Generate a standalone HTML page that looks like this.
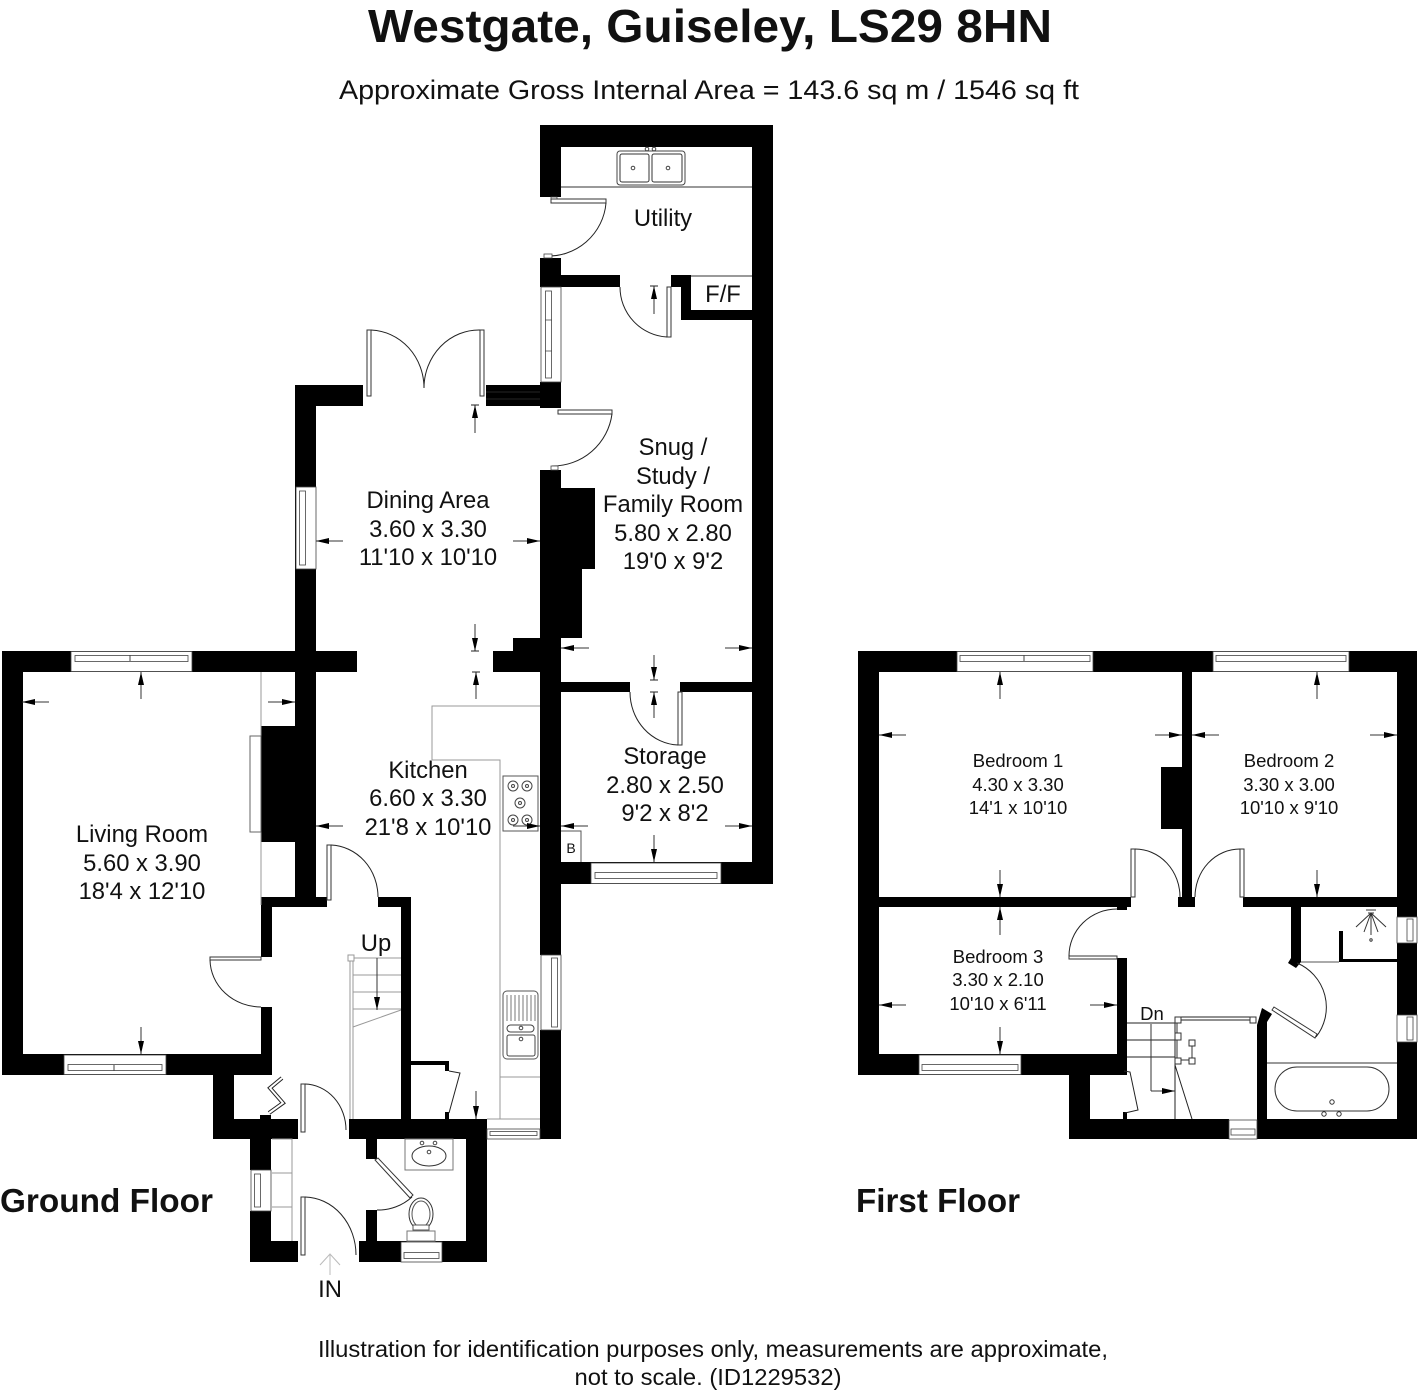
<!DOCTYPE html>
<html><head><meta charset="utf-8"><style>
html,body{margin:0;padding:0;background:#fff}
svg{display:block}
text{font-family:"Liberation Sans",sans-serif;fill:#111;text-anchor:middle}
.w{fill:#000;stroke:none}
.l{fill:none;stroke:#222;stroke-width:1}
.g{fill:none;stroke:#999;stroke-width:1}
.d{fill:#fff;stroke:#333;stroke-width:1}
.f{fill:#fff;stroke:#444;stroke-width:.8}
.r{font-size:23.8px}
.s{font-size:18.5px}
.a{stroke:#333;stroke-width:1;fill:none;marker-end:url(#ah)}
</style></head><body>
<svg width="1424" height="1392" viewBox="0 0 1424 1392" xmlns="http://www.w3.org/2000/svg">
<defs><marker id="ah" markerUnits="userSpaceOnUse" markerWidth="14" markerHeight="8" refX="13" refY="4" orient="auto"><path d="M0 1 L13 4 L0 7 Z" fill="#000"/></marker></defs>
<rect width="1424" height="1392" fill="#fff"/>

<!-- walls ground floor -->
<rect x="540" y="125" width="233" height="22" class="w"/>
<rect x="540" y="125" width="21" height="72" class="w"/>
<rect x="752" y="125" width="21" height="759" class="w"/>
<rect x="540" y="470" width="21" height="414" class="w"/>
<rect x="540" y="488" width="55" height="81" class="w"/>
<rect x="540" y="569" width="42" height="69" class="w"/>
<rect x="513" y="638" width="48" height="14" class="w"/>
<rect x="493" y="651" width="68" height="21" class="w"/>
<rect x="540" y="862" width="233" height="22" class="w"/>
<rect x="540" y="258" width="21" height="29" class="w"/>
<rect x="540" y="275" width="80" height="12" class="w"/>
<rect x="671" y="275" width="20" height="12" class="w"/>
<rect x="681" y="287" width="10" height="33" class="w"/>
<rect x="681" y="310" width="72" height="10" class="w"/>
<rect x="486" y="385" width="75" height="21" class="w"/>
<rect x="540" y="382" width="21" height="26" class="w"/>
<path d="M486 392H540M486 399H540" stroke="#333" stroke-width=".7"/>
<rect x="295" y="385" width="68" height="21" class="w"/>
<rect x="295" y="385" width="21" height="522" class="w"/>
<rect x="2" y="651" width="355" height="21" class="w"/>
<rect x="2" y="651" width="21" height="424" class="w"/>
<rect x="261" y="726" width="55" height="116" class="w"/>
<rect x="2" y="1054" width="270" height="21" class="w"/>
<rect x="261" y="897" width="66" height="10" class="w"/>
<rect x="261" y="897" width="11" height="60" class="w"/>
<rect x="261" y="1007" width="11" height="60" class="w"/>
<rect x="378" y="897" width="33" height="10" class="w"/>
<rect x="401" y="897" width="10" height="222" class="w"/>
<rect x="213" y="1067" width="21" height="72" class="w"/>
<rect x="213" y="1119" width="85" height="20" class="w"/>
<rect x="260" y="1115" width="11" height="4" class="w"/>
<rect x="349" y="1119" width="138" height="20" class="w"/>
<rect x="250" y="1139" width="21" height="31" class="w"/>
<rect x="250" y="1211" width="21" height="30" class="w"/>
<rect x="250" y="1241" width="48" height="21" class="w"/>
<rect x="359" y="1241" width="128" height="21" class="w"/>
<rect x="466" y="1139" width="21" height="102" class="w"/>
<rect x="366" y="1139" width="11" height="20" class="w"/>
<rect x="366" y="1210" width="11" height="31" class="w"/>
<rect x="411" y="1061" width="38" height="4" class="w"/>
<rect x="445" y="1061" width="4" height="10" class="w"/>
<rect x="445" y="1112" width="4" height="7" class="w"/>
<rect x="540" y="884" width="21" height="71" class="w"/>
<rect x="540" y="1030" width="21" height="109" class="w"/>
<rect x="561" y="682" width="69" height="10" class="w"/>
<rect x="680" y="682" width="72" height="10" class="w"/>

<!-- windows ground floor -->
<rect x="71" y="651.500" width="121" height="20" class="f"/>
<rect x="75" y="655.500" width="113" height="6" class="f"/><line x1="130" y1="655" x2="130" y2="661" stroke="#444"/>
<rect x="64" y="1055" width="102" height="19.500" class="f"/>
<rect x="68" y="1064.500" width="94" height="6" class="f"/><line x1="114" y1="1065" x2="114" y2="1071" stroke="#444"/>
<rect x="591" y="863" width="130" height="20.500" class="f"/>
<rect x="595" y="872.500" width="122" height="6" class="f"/>
<rect x="296" y="487" width="20" height="82" class="f"/>
<rect x="299.500" y="491" width="6" height="74" class="f"/>
<rect x="541" y="287" width="20" height="95" class="f"/>
<rect x="545.500" y="291" width="6" height="87" class="f"/>
<path d="M545 320H552M545 351H552" stroke="#444" stroke-width=".8"/>
<rect x="541" y="955" width="20" height="75" class="f"/>
<rect x="551.500" y="958" width="6" height="69" class="f"/>
<rect x="487" y="1129" width="53" height="10" class="f"/>
<rect x="490" y="1131.500" width="47" height="4" class="f"/>
<rect x="251" y="1170" width="20" height="41" class="f"/>
<rect x="254.500" y="1174" width="6" height="33" class="f"/>
<rect x="401" y="1242" width="41" height="20" class="f"/>
<rect x="404" y="1252.500" width="35" height="6" class="f"/>

<!-- doors ground -->
<rect x="551" y="197" width="6" height="6" class="f"/><rect x="551" y="199" width="55" height="4" class="d"/>
<path class="l" d="M606 203A58 58 0 0 1 545 256"/>
<rect x="544" y="254" width="8" height="4" class="f"/>
<rect x="667" y="287" width="4" height="50" class="d"/><path class="l" d="M620 287A50 50 0 0 0 667 337"/>
<rect x="367" y="330" width="4" height="66" class="d"/><rect x="480" y="330" width="4" height="66" class="d"/>
<path class="l" d="M371 330A55 58 0 0 1 424 388M480 330A55 58 0 0 0 424 388"/>
<rect x="558" y="410" width="54" height="4" class="d"/><path class="l" d="M612 414A60 60 0 0 1 552 466"/>
<rect x="551" y="466" width="7" height="4" class="f"/>
<rect x="678" y="692" width="4" height="53" class="d"/><path class="l" d="M630 692A50 53 0 0 0 678 745"/>
<rect x="327" y="845" width="4" height="55" class="d"/><path class="l" d="M331 845A49 52 0 0 1 378 897"/>
<rect x="210" y="957" width="51" height="3" class="d"/><path class="l" d="M210 960A51 48 0 0 0 261 1007"/>
<rect x="301" y="1084" width="4" height="48" class="d"/><path class="l" d="M305 1084A42 46 0 0 1 346 1130"/>
<rect x="301" y="1197" width="4" height="58" class="d"/><path class="l" d="M305 1197A52 58 0 0 1 356 1255"/>
<path class="d" d="M375 1160L378 1158L413 1195L410 1198Z"/><path class="l" d="M412 1197A50 50 0 0 1 377 1210"/>
<path class="l" d="M449 1071L460 1073L449 1113"/>
<path d="M269 1113L283 1103L270 1088L282 1078" style="fill:none;stroke:#222;stroke-width:4"/>
<path d="M269 1113L283 1103L270 1088L282 1078" style="fill:none;stroke:#fff;stroke-width:2"/>

<!-- fittings ground -->
<path class="g" d="M261 672V905M432 760V706H540M432 760H500V1119M500 1077H540M487 1119H540"/>
<rect x="250" y="736" width="11" height="96" fill="#fff" stroke="#666"/>
<rect x="503" y="776" width="35" height="55" fill="#fff" stroke="#555"/>
<g fill="none" stroke="#444"><circle cx="513" cy="786" r="5"/><circle cx="527" cy="786" r="5"/><circle cx="520" cy="803" r="5"/><circle cx="513" cy="820" r="5"/><circle cx="527" cy="820" r="5"/><circle cx="513" cy="786" r="1.5"/><circle cx="527" cy="786" r="1.5"/><circle cx="520" cy="803" r="1.5"/><circle cx="513" cy="820" r="1.5"/><circle cx="527" cy="820" r="1.5"/></g>
<line x1="561" y1="187" x2="752" y2="187" stroke="#333"/>
<rect x="617" y="151" width="68" height="34" rx="3" fill="#fff" stroke="#444"/>
<rect x="620" y="154" width="29" height="28" rx="2" fill="#fff" stroke="#333"/>
<rect x="652" y="154" width="30" height="28" rx="2" fill="#fff" stroke="#333"/>
<g fill="none" stroke="#444"><circle cx="633" cy="168" r="1.8"/><circle cx="668" cy="168" r="1.8"/><circle cx="647" cy="149" r="1.8"/><circle cx="654" cy="149" r="1.8"/></g>
<line x1="691" y1="276" x2="752" y2="276" stroke="#333"/>
<path d="M561 831H581V862" fill="none" stroke="#555"/>
<rect x="503" y="991" width="35" height="68" rx="4" fill="#fff" stroke="#555"/>
<path stroke="#777" fill="none" d="M507 995V1021M511 995V1021M515 995V1021M519 995V1021M523 995V1021M527 995V1021M531 995V1021M535 995V1021"/>
<rect x="507" y="1025" width="27" height="7" rx="3.500" fill="#fff" stroke="#444"/>
<rect x="507" y="1035" width="28" height="21" rx="2" fill="#fff" stroke="#444"/>
<circle cx="521" cy="1028" r="1.8" fill="#fff" stroke="#444"/><circle cx="521" cy="1039" r="1.8" fill="#fff" stroke="#444"/>
<rect x="405" y="1139" width="48" height="31" fill="#fff" stroke="#777"/>
<ellipse cx="429" cy="1156" rx="17" ry="10" fill="#fff" stroke="#333"/>
<g fill="none" stroke="#444"><circle cx="429" cy="1152" r="1.8"/><circle cx="422" cy="1143" r="1.8"/><circle cx="435" cy="1143" r="1.8"/></g>
<ellipse cx="421" cy="1214" rx="12" ry="16" fill="#fff" stroke="#333"/>
<ellipse cx="421" cy="1214" rx="9" ry="13" fill="#fff" stroke="#555"/>
<rect x="413" y="1225" width="16" height="5" fill="#fff" stroke="#555"/>
<rect x="407" y="1231" width="28" height="10" fill="#fff" stroke="#777"/>
<path class="g" d="M272 1139H292V1241M272 1173H292M272 1207H292"/>
<path class="g" d="M353 958H401M353 975H401M353 992H401M353 1009H401M353 1027L401 1010M350 958V1119M353 958V1119"/>
<rect x="348" y="955" width="6" height="6" fill="#fff" stroke="#999"/>
<line x1="377" y1="958" x2="377" y2="1010" class="a"/>

<!-- arrows ground -->
<g>
<line class="a" x1="654" y1="314" x2="654" y2="286"/><path class="l" d="M650 286H658"/>
<line class="a" x1="475" y1="433" x2="475" y2="405"/><path class="l" d="M471 405H479"/>
<line class="a" x1="475" y1="624" x2="475" y2="651"/><path class="l" d="M471 651H479"/>
<line class="a" x1="343" y1="541" x2="316" y2="541"/>
<line class="a" x1="513" y1="541" x2="540" y2="541"/>
<line class="a" x1="589" y1="648" x2="561" y2="648"/>
<line class="a" x1="725" y1="648" x2="752" y2="648"/>
<line class="a" x1="654" y1="655" x2="654" y2="680"/><path class="l" d="M650 680H658"/>
<line class="a" x1="654" y1="718" x2="654" y2="692"/><path class="l" d="M650 692H658"/>
<line class="a" x1="476" y1="699" x2="476" y2="672"/><path class="l" d="M472 672H480"/>
<line class="a" x1="343" y1="826" x2="316" y2="826"/>
<line class="a" x1="513" y1="826" x2="540" y2="826"/>
<line class="a" x1="476" y1="1091" x2="476" y2="1119"/>
<line class="a" x1="588" y1="826" x2="561" y2="826"/>
<line class="a" x1="725" y1="826" x2="752" y2="826"/>
<line class="a" x1="654" y1="835" x2="654" y2="862"/>
<line class="a" x1="141" y1="699" x2="141" y2="672"/>
<line class="a" x1="49" y1="702" x2="22" y2="702"/>
<line class="a" x1="268" y1="702" x2="295" y2="702"/>
<line class="a" x1="141" y1="1027" x2="141" y2="1054"/>
</g>
<path d="M330 1275V1255M320 1265L330 1254L340 1265" fill="none" stroke="#bbb"/>

<!-- walls first floor -->
<path class="w" d="M858 651H1417V1139H1257V1119H1397V672H879V1075H858Z"/>
<rect x="858" y="1054" width="269" height="21" class="w"/>
<rect x="1182" y="672" width="10" height="225" class="w"/>
<rect x="1161" y="767" width="31" height="62" class="w"/>
<rect x="1178" y="897" width="17" height="10" class="w"/>
<rect x="879" y="897" width="252" height="10" class="w"/>
<rect x="1117" y="907" width="10" height="3" class="w"/>
<rect x="1243" y="897" width="154" height="10" class="w"/>
<rect x="1117" y="958" width="10" height="109" class="w"/>
<rect x="1069" y="1067" width="21" height="72" class="w"/>
<rect x="1069" y="1119" width="160" height="20" class="w"/>
<rect x="1123" y="1067" width="4" height="5" class="w"/>
<rect x="1123" y="1112" width="4" height="7" class="w"/>
<path class="w" d="M1291 907H1301V962L1296 968L1288 963L1291 958Z"/>
<path class="w" d="M1257 1025L1262 1008L1272 1014L1267 1022V1119H1257Z"/>
<rect x="1339" y="931" width="4" height="31" class="w"/>
<rect x="1339" y="959" width="58" height="3" class="w"/>
<line x1="1301" y1="962" x2="1339" y2="962" stroke="#555"/>
<line x1="1267" y1="1063" x2="1397" y2="1063" stroke="#333"/>

<!-- windows first floor -->
<rect x="957" y="651.500" width="136" height="20" class="f"/>
<rect x="960" y="655.500" width="130" height="6" class="f"/><line x1="1024" y1="655" x2="1024" y2="661" stroke="#444"/>
<rect x="1213" y="651.500" width="136" height="20" class="f"/>
<rect x="1216" y="655.500" width="130" height="6" class="f"/>
<rect x="919" y="1055" width="102" height="19.500" class="f"/>
<rect x="922" y="1064.500" width="96" height="6" class="f"/>
<rect x="1397" y="917" width="20" height="26" class="f"/>
<rect x="1407" y="919" width="6" height="22" class="f"/>
<rect x="1397" y="1015" width="20" height="27" class="f"/>
<rect x="1407" y="1017" width="6" height="23" class="f"/>
<rect x="1229" y="1120" width="28" height="19" class="f"/>
<rect x="1231" y="1129" width="24" height="6" class="f"/>

<!-- doors first floor -->
<rect x="1131" y="849" width="4" height="48" class="d"/><path class="l" d="M1135 849A45 48 0 0 1 1180 897"/>
<rect x="1240" y="849" width="4" height="48" class="d"/><path class="l" d="M1240 849A45 48 0 0 0 1195 897"/>
<rect x="1069" y="956" width="48" height="3" class="d"/><path class="l" d="M1069 956A48 47 0 0 1 1117 909"/>
<path class="d" d="M1272 1010L1274 1007L1317 1034L1315 1038Z"/><path class="l" d="M1297 963A48 48 0 0 1 1316 1037"/>
<path class="l" d="M1124 1071L1130 1072L1138 1110L1125 1113"/>

<!-- bath / shower / stairs first -->
<rect x="1275" y="1067" width="114" height="44" rx="22" fill="#fff" stroke="#333"/>
<g fill="#fff" stroke="#333"><circle cx="1332" cy="1102" r="2.200"/><circle cx="1324" cy="1114" r="2.200"/><circle cx="1339" cy="1114" r="2.200"/><circle cx="1371" cy="940" r="1.200"/></g>
<path stroke="#333" fill="none" d="M1366 910H1376M1368 913H1374M1371 913V935M1371 913L1356 927M1371 913L1386 927M1371 913L1364 932M1371 913L1378 932"/>
<path class="l" d="M1127 1023H1175M1127 1040H1175M1127 1057H1175M1175 1017V1119M1175 1065L1192 1119M1175 1017H1255M1175 1020H1255"/>
<line class="a" x1="1151" y1="1091" x2="1175" y2="1091"/>
<line x1="1151" y1="1024" x2="1151" y2="1091" stroke="#333"/>
<g fill="#fff" stroke="#333"><rect x="1175" y="1017" width="6" height="6"/><rect x="1250" y="1017" width="6" height="6"/><rect x="1175" y="1033" width="6" height="7"/><rect x="1175" y="1058" width="6" height="6"/><rect x="1189" y="1040" width="6" height="6"/><rect x="1189" y="1058" width="6" height="6"/><path d="M1181 1060H1189M1192 1046V1058"/><path d="M1177 1023V1033M1177 1040V1058"/></g>

<!-- arrows first -->
<g>
<line class="a" x1="1000" y1="699" x2="1000" y2="672"/>
<line class="a" x1="906" y1="735" x2="879" y2="735"/>
<line class="a" x1="1155" y1="735" x2="1182" y2="735"/>
<line class="a" x1="1000" y1="870" x2="1000" y2="897"/>
<line class="a" x1="1219" y1="735" x2="1192" y2="735"/>
<line class="a" x1="1370" y1="735" x2="1397" y2="735"/>
<line class="a" x1="1317" y1="699" x2="1317" y2="672"/>
<line class="a" x1="1317" y1="870" x2="1317" y2="897"/>
<line class="a" x1="1000" y1="935" x2="1000" y2="907"/>
<line class="a" x1="1000" y1="1027" x2="1000" y2="1054"/>
<line class="a" x1="906" y1="1005" x2="879" y2="1005"/>
<line class="a" x1="1090" y1="1005" x2="1117" y2="1005"/>
</g>

<!-- text -->
<text x="710" y="42" style="font-size:46.5px;font-weight:700" textLength="684" lengthAdjust="spacingAndGlyphs">Westgate, Guiseley, LS29 8HN</text>
<text x="709" y="99" style="font-size:27px" textLength="740" lengthAdjust="spacingAndGlyphs">Approximate Gross Internal Area = 143.6 sq m / 1546 sq ft</text>
<text class="r" x="663" y="226">Utility</text>
<text class="r" x="723" y="302">F/F</text>
<text class="r" x="673" y="455">Snug /</text>
<text class="r" x="673" y="484">Study /</text>
<text class="r" x="673" y="512">Family Room</text>
<text class="r" x="673" y="541">5.80 x 2.80</text>
<text class="r" x="673" y="569">19'0 x 9'2</text>
<text class="r" x="428" y="508">Dining Area</text>
<text class="r" x="428" y="537">3.60 x 3.30</text>
<text class="r" x="428" y="565">11'10 x 10'10</text>
<text class="r" x="428" y="778">Kitchen</text>
<text class="r" x="428" y="806">6.60 x 3.30</text>
<text class="r" x="428" y="835">21'8 x 10'10</text>
<text class="r" x="665" y="764">Storage</text>
<text class="r" x="665" y="793">2.80 x 2.50</text>
<text class="r" x="665" y="821">9'2 x 8'2</text>
<text class="r" x="142" y="842">Living Room</text>
<text class="r" x="142" y="871">5.60 x 3.90</text>
<text class="r" x="142" y="899">18'4 x 12'10</text>
<text class="r" x="376" y="951">Up</text>
<text class="r" x="330" y="1297">IN</text>
<text x="571" y="853" style="font-size:14px">B</text>
<text class="s" x="1018" y="767">Bedroom 1</text>
<text class="s" x="1018" y="791">4.30 x 3.30</text>
<text class="s" x="1018" y="814">14'1 x 10'10</text>
<text class="s" x="1289" y="767">Bedroom 2</text>
<text class="s" x="1289" y="791">3.30 x 3.00</text>
<text class="s" x="1289" y="814">10'10 x 9'10</text>
<text class="s" x="998" y="963">Bedroom 3</text>
<text class="s" x="998" y="986">3.30 x 2.10</text>
<text class="s" x="998" y="1010">10'10 x 6'11</text>
<text class="s" x="1152" y="1020">Dn</text>
<text x="106.500" y="1212" style="font-size:33px;font-weight:700" textLength="213" lengthAdjust="spacingAndGlyphs">Ground Floor</text>
<text x="938" y="1212" style="font-size:33px;font-weight:700" textLength="164" lengthAdjust="spacingAndGlyphs">First Floor</text>
<text x="713" y="1357" style="font-size:23.5px" textLength="790" lengthAdjust="spacingAndGlyphs">Illustration for identification purposes only, measurements are approximate,</text>
<text x="708" y="1385" style="font-size:23.5px" textLength="267" lengthAdjust="spacingAndGlyphs">not to scale. (ID1229532)</text>
</svg>
</body></html>
